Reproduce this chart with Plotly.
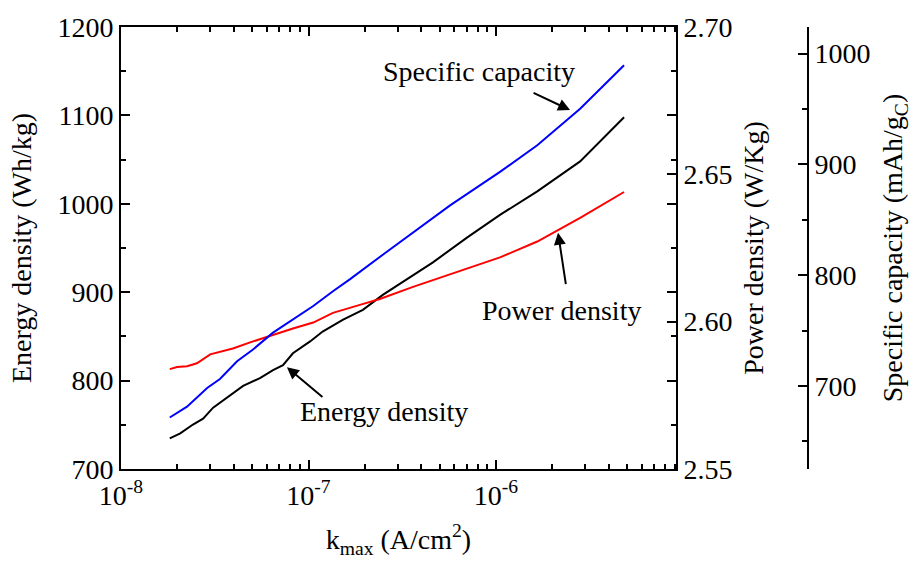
import plotly.graph_objects as go

# ---- data ----
k_energy = [1.82e-8, 2.07e-8, 2.42e-8, 2.74e-8, 3.10e-8, 3.67e-8, 4.48e-8, 5.51e-8,
            6.47e-8, 7.31e-8, 8.26e-8, 1.02e-7, 1.19e-7, 1.53e-7, 1.95e-7, 2.49e-7,
            3.48e-7, 4.61e-7, 7.00e-7, 1.05e-6, 1.66e-6, 2.81e-6, 4.82e-6]
energy = [734.7, 740.3, 750.3, 757.0, 769.4, 780.5, 794.0, 802.9,
          811.9, 817.4, 830.9, 844.3, 855.5, 868.9, 880.1, 896.9,
          917.0, 933.8, 961.7, 987.5, 1014.0, 1048.0, 1098.0]

k_capacity = [1.82e-8, 2.25e-8, 2.88e-8, 3.37e-8, 4.16e-8, 5.06e-8, 6.47e-8, 8.26e-8,
              1.06e-7, 1.35e-7, 1.66e-7, 2.49e-7, 3.79e-7, 5.69e-7, 1.05e-6, 1.66e-6,
              2.81e-6, 4.82e-6]
capacity = [671.5, 681.3, 698.2, 706.2, 722.3, 732.9, 748.1, 759.7,
            772.1, 785.5, 796.2, 818.4, 840.7, 863.0, 893.2, 917.3,
            950.2, 989.4]

k_power = [1.82e-8, 1.99e-8, 2.25e-8, 2.54e-8, 2.99e-8, 3.95e-8, 5.06e-8, 6.47e-8,
           8.26e-8, 1.06e-7, 1.35e-7, 1.88e-7, 2.40e-7, 3.61e-7, 6.75e-7, 1.05e-6,
           1.66e-6, 2.81e-6, 4.82e-6]
power = [2.5839, 2.5846, 2.5849, 2.5859, 2.5889, 2.5909, 2.5933, 2.5956,
         2.5977, 2.5997, 2.6030, 2.6057, 2.6077, 2.6118, 2.6178, 2.6218,
         2.6272, 2.6352, 2.6440]

x_tick_vals = [1e-8, 1e-7, 1e-6]
x_tick_text = ["10<sup>-8</sup>", "10<sup>-7</sup>", "10<sup>-6</sup>"]
x_minor_vals = [m * d for d in (1e-8, 1e-7, 1e-6) for m in range(2, 10)]
cap_ticks = [700, 800, 900, 1000]

FONT = "Liberation Serif, Times New Roman, Times, serif"
FS = 28

fig = go.Figure()
fig.add_trace(go.Scatter(x=k_energy, y=energy, mode="lines",
                         line=dict(color="black", width=2), yaxis="y", showlegend=False))
fig.add_trace(go.Scatter(x=k_power, y=power, mode="lines",
                         line=dict(color="#ff0000", width=2), yaxis="y2", showlegend=False))
fig.add_trace(go.Scatter(x=k_capacity, y=capacity, mode="lines",
                         line=dict(color="#0000ff", width=2), yaxis="y3", showlegend=False))

axis_common = dict(showgrid=False, zeroline=False, showline=True, linecolor="black",
                   linewidth=2, tickcolor="black", tickwidth=2,
                   tickfont=dict(family=FONT, size=FS, color="black"))

fig.update_layout(
    width=919, height=571,
    margin=dict(l=121, r=111, t=22, b=102),
    paper_bgcolor="white", plot_bgcolor="white",
    font=dict(family=FONT, size=FS, color="black"),
    xaxis=dict(type="log", range=[-8, -5.04], domain=[0, 555 / 687],
               tickvals=x_tick_vals, ticktext=x_tick_text,
               ticks="inside", ticklen=9, mirror="ticks",
               minor=dict(tickvals=x_minor_vals, ticks="inside", ticklen=5,
                          tickcolor="black", tickwidth=1.5, showgrid=False),
               title=dict(text="k<sub>max</sub> (A/cm<sup>2</sup>)",
                          font=dict(family=FONT, size=FS), standoff=20),
               **axis_common),
    yaxis=dict(range=[700, 1200], dtick=100, ticks="inside", ticklen=9, mirror="ticks",
               minor=dict(dtick=50, ticks="inside", ticklen=5, tickcolor="black",
                          tickwidth=1.5, showgrid=False),
               title=dict(text="Energy density (Wh/kg)",
                          font=dict(family=FONT, size=FS), standoff=18),
               **axis_common),
    yaxis2=dict(range=[2.55, 2.70], tickvals=[2.55, 2.60, 2.65, 2.70], tickformat=".2f",
                overlaying="y", side="right", anchor="x", ticks="inside", ticklen=9,
                title=dict(text="Power density (W/Kg)",
                           font=dict(family=FONT, size=FS), standoff=12),
                **axis_common),
    yaxis3=dict(range=[625, 1024], tickvals=cap_ticks, overlaying="y", side="right",
                anchor="free", position=1.0, ticks="inside", ticklen=9,
                minor=dict(dtick=50, ticks="inside", ticklen=5, tickcolor="black",
                           tickwidth=1.5, showgrid=False),
                title=dict(text="Specific capacity (mAh/g<sub>C</sub>)",
                           font=dict(family=FONT, size=FS), standoff=12),
                **axis_common),
)

# text labels
labels = [("Specific capacity", -6.091, 1149.7),
          ("Power density", -5.653, 879.0),
          ("Energy density", -6.597, 764.9)]
for txt, lx, ly in labels:
    fig.add_annotation(x=lx, y=ly, xref="x", yref="y", text=txt, showarrow=False,
                       font=dict(family=FONT, size=FS, color="black"))

# arrows (head in data coords, tail as pixel offset)
arrows = [(-5.605, 1106.0, -38, -18),
          (-5.669, 967.3, 8, 53),
          (-7.115, 815.2, 37, 31)]
for hx, hy, ax, ay in arrows:
    fig.add_annotation(x=hx, y=hy, xref="x", yref="y", text="", showarrow=True,
                       ax=ax, ay=ay, arrowhead=2, arrowsize=1.2, arrowwidth=2,
                       arrowcolor="black")

fig.write_html("out.html")
